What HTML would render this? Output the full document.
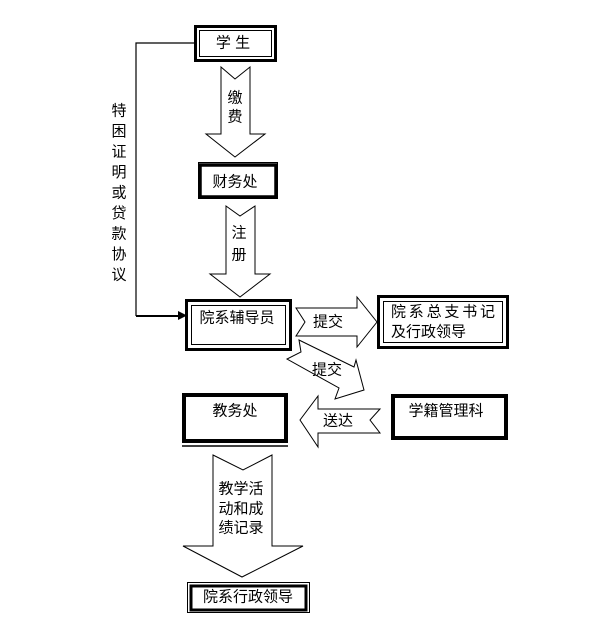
<!DOCTYPE html>
<html>
<head>
<meta charset="utf-8">
<style>
  html, body { margin:0; padding:0; background:#fff; }
  svg { display:block; }
  text { font-family: "Liberation Sans", "Noto Sans CJK SC", "WenQuanYi Zen Hei", sans-serif; font-size:15px; fill:#000; }
</style>
</head>
<body>
<svg width="608" height="637" viewBox="0 0 608 637" xmlns="http://www.w3.org/2000/svg">
  <rect x="0" y="0" width="608" height="637" fill="#fff"/>

  <!-- Left connector -->
  <path d="M194,43 H136 V316" fill="none" stroke="#000" stroke-width="1.2"/>
  <path d="M136,316 H180" fill="none" stroke="#000" stroke-width="2"/>
  <polygon points="178,311 187,315.5 178,320" fill="#000"/>

  <!-- Left vertical text -->
  <text x="119" y="111" text-anchor="middle" dominant-baseline="central">特</text>
  <text x="119" y="131.5" text-anchor="middle" dominant-baseline="central">困</text>
  <text x="119" y="152" text-anchor="middle" dominant-baseline="central">证</text>
  <text x="119" y="172.5" text-anchor="middle" dominant-baseline="central">明</text>
  <text x="119" y="193" text-anchor="middle" dominant-baseline="central">或</text>
  <text x="119" y="213.5" text-anchor="middle" dominant-baseline="central">贷</text>
  <text x="119" y="234" text-anchor="middle" dominant-baseline="central">款</text>
  <text x="119" y="254.5" text-anchor="middle" dominant-baseline="central">协</text>
  <text x="119" y="275" text-anchor="middle" dominant-baseline="central">议</text>

  <!-- Box 学生 -->
  <rect x="195.5" y="26.5" width="80" height="34" fill="#fff" stroke="#000" stroke-width="3"/>
  <rect x="199.5" y="30.5" width="72" height="26" fill="none" stroke="#000" stroke-width="1"/>
  <text x="233" y="43" text-anchor="middle" dominant-baseline="central">学 生</text>

  <!-- Arrow 缴费 -->
  <polygon points="221,67 235,79 250,67 250,134 265,134 235,157 206,134 221,134" fill="#fff" stroke="#000" stroke-width="1"/>
  <text x="235" y="98" text-anchor="middle" dominant-baseline="central">缴</text>
  <text x="235" y="117" text-anchor="middle" dominant-baseline="central">费</text>

  <!-- Box 财务处 -->
  <rect x="198.5" y="162.5" width="79" height="36" fill="#fff" stroke="#000" stroke-width="1"/>
  <rect x="200" y="165" width="76" height="32" fill="none" stroke="#000" stroke-width="3.5"/>
  <text x="235" y="182" text-anchor="middle" dominant-baseline="central">财务处</text>

  <!-- Arrow 注册 -->
  <polygon points="226,206 240,216 255,206 255,274 270,274 240,297 210,274 226,274" fill="#fff" stroke="#000" stroke-width="1"/>
  <text x="239" y="233" text-anchor="middle" dominant-baseline="central">注</text>
  <text x="239" y="255" text-anchor="middle" dominant-baseline="central">册</text>

  <!-- Box 院系辅导员 -->
  <rect x="186.5" y="300.5" width="104" height="49" fill="#fff" stroke="#000" stroke-width="3"/>
  <rect x="191.5" y="305.5" width="94" height="39" fill="none" stroke="#000" stroke-width="1"/>
  <text x="237" y="318" text-anchor="middle" dominant-baseline="central">院系辅导员</text>

  <!-- Arrow 提交 (right) -->
  <polygon points="296,308 357,308 357,297 377,322 357,347 357,336 296,336 305,322" fill="#fff" stroke="#000" stroke-width="1"/>
  <text x="328" y="322" text-anchor="middle" dominant-baseline="central">提交</text>

  <!-- Box 院系总支书记及行政领导 -->
  <rect x="378.5" y="296.5" width="129" height="51" fill="#fff" stroke="#000" stroke-width="3"/>
  <rect x="383.5" y="301.5" width="119" height="41" fill="none" stroke="#000" stroke-width="1"/>
  <text x="391" y="312" dominant-baseline="central" letter-spacing="2.8">院系总支书记</text>
  <text x="391" y="332" dominant-baseline="central">及行政领导</text>

  <!-- Diagonal arrow 提交 -->
  <polygon points="299,340 354,367 356,360 364,390 335,399 339,388 287,359 301,352" fill="#fff" stroke="#000" stroke-width="1"/>
  <text x="327" y="370" text-anchor="middle" dominant-baseline="central">提交</text>

  <!-- Box 教务处 -->
  <rect x="184" y="395" width="102" height="46" fill="#fff" stroke="#000" stroke-width="4"/>
  <line x1="182" y1="446" x2="288" y2="446" stroke="#000" stroke-width="1.5"/>
  <text x="235" y="411" text-anchor="middle" dominant-baseline="central">教务处</text>

  <!-- Arrow 送达 (left) -->
  <polygon points="380,409 318,409 318,396 300,420 318,447 318,433 380,433 370,420" fill="#fff" stroke="#000" stroke-width="1"/>
  <text x="338" y="421" text-anchor="middle" dominant-baseline="central">送达</text>

  <!-- Box 学籍管理科 -->
  <rect x="393" y="396" width="113" height="42" fill="#fff" stroke="#000" stroke-width="4"/>
  <text x="446" y="411" text-anchor="middle" dominant-baseline="central">学籍管理科</text>

  <!-- Arrow 教学活动和成绩记录 -->
  <polygon points="213,455 243,470 272,455 272,546 303,546 242,577 183,546 213,546" fill="#fff" stroke="#000" stroke-width="1"/>
  <text x="241" y="489" text-anchor="middle" dominant-baseline="central">教学活</text>
  <text x="241" y="509" text-anchor="middle" dominant-baseline="central">动和成</text>
  <text x="241" y="528" text-anchor="middle" dominant-baseline="central">绩记录</text>

  <!-- Box 院系行政领导 -->
  <rect x="187.5" y="582.5" width="122" height="30" fill="#fff" stroke="#000" stroke-width="1"/>
  <rect x="191" y="586" width="115" height="24" fill="none" stroke="#000" stroke-width="3"/>
  <text x="248" y="597" text-anchor="middle" dominant-baseline="central">院系行政领导</text>
</svg>
</body>
</html>
